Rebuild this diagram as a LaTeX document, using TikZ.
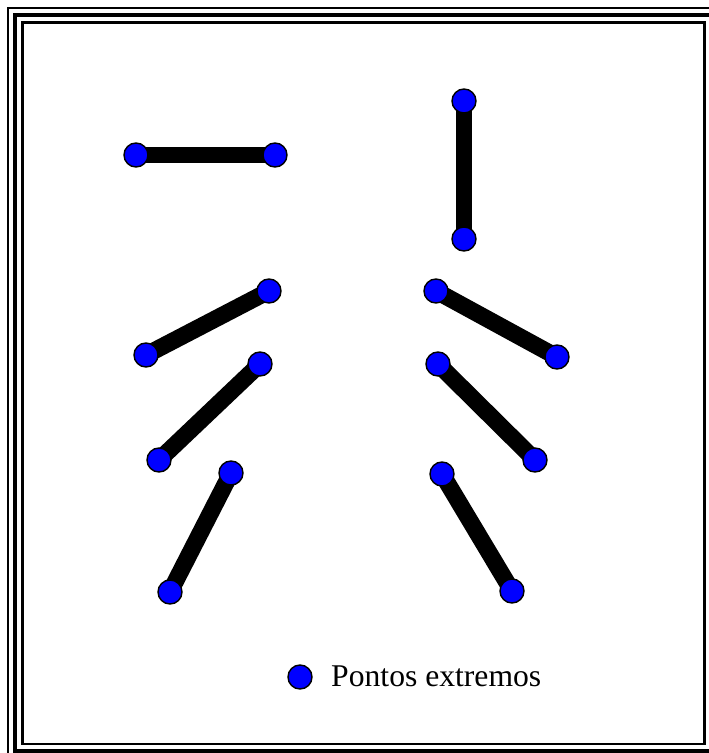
\documentclass[tikz,border=0pt]{standalone}
\usepackage{fontspec}
\setmainfont{Liberation Serif}
\usetikzlibrary{backgrounds}

\begin{document}
\begin{tikzpicture}[x=0.03cm,y=-0.03cm,
    endpt/.style={circle,draw=black,line width=1.2pt,fill=blue,
                  minimum size=0.72cm,inner sep=0pt},
    bar/.style={line width=14.5pt}]
  \useasboundingbox (0,0) rectangle (709,753);
  % triple frame
  \begin{scope}
    \clip (0,0) rectangle (709,753);
    \draw[line width=1.8pt] (8,8) rectangle (718,762);
    \draw[line width=4.2pt] (15,15) rectangle (713,751);
    \draw[line width=2.2pt] (22.5,22.5) rectangle (704.5,744);
  \end{scope}
  % end points
  \node[endpt] (h1) at (136,155) {};
  \node[endpt] (h2) at (275,155) {};
  \node[endpt] (v1) at (464,101) {};
  \node[endpt] (v2) at (464,239) {};
  \node[endpt] (l1a) at (146,355) {};
  \node[endpt] (l1b) at (269,291) {};
  \node[endpt] (l2a) at (159,460) {};
  \node[endpt] (l2b) at (260,364) {};
  \node[endpt] (l3a) at (170,592) {};
  \node[endpt] (l3b) at (231,473) {};
  \node[endpt] (r1a) at (436,291) {};
  \node[endpt] (r1b) at (557,357) {};
  \node[endpt] (r2a) at (438,364) {};
  \node[endpt] (r2b) at (535,460) {};
  \node[endpt] (r3a) at (442,474) {};
  \node[endpt] (r3b) at (512,591) {};
  % segments behind the points
  \begin{scope}[on background layer]
    \draw[bar] (h1.center) -- (h2.center);
    \draw[bar] (v1.center) -- (v2.center);
    \draw[bar] (l1a.center) -- (l1b.center);
    \draw[bar] (l2a.center) -- (l2b.center);
    \draw[bar] (l3a.center) -- (l3b.center);
    \draw[bar] (r1a.center) -- (r1b.center);
    \draw[bar] (r2a.center) -- (r2b.center);
    \draw[bar] (r3a.center) -- (r3b.center);
  \end{scope}
  % legend
  \node[endpt] (leg) at (300,677) {};
  \node[anchor=base west,inner sep=0pt,font=\fontsize{27}{32}\selectfont]
    (legtxt) at (331,686) {Pontos extremos};
\end{tikzpicture}
\end{document}
